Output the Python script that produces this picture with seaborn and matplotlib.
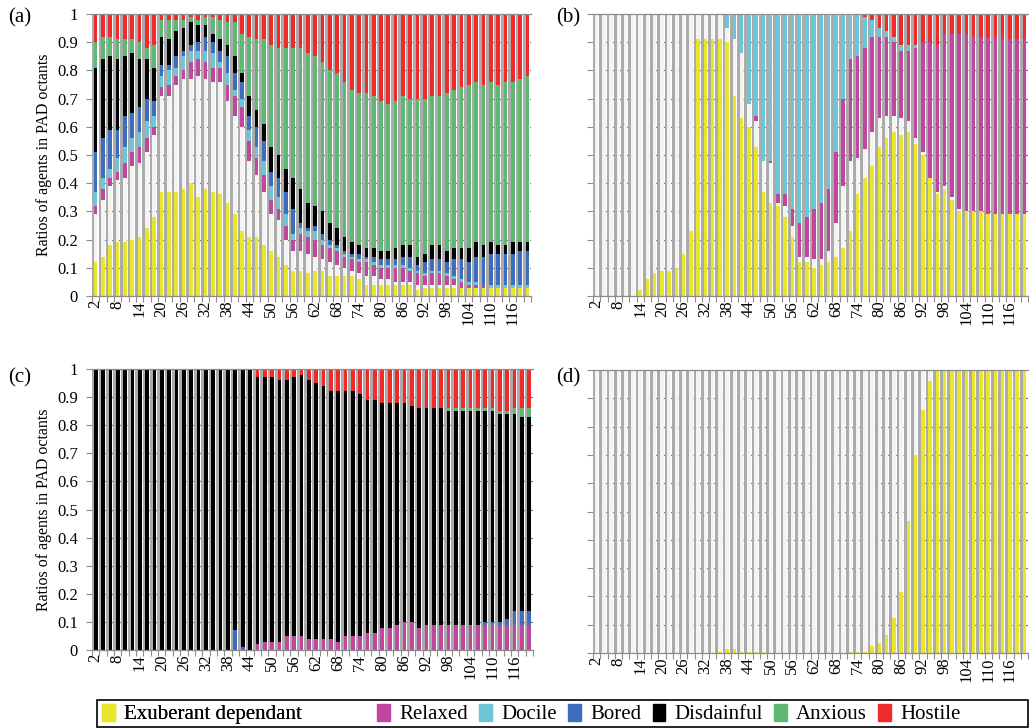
import numpy as np
import matplotlib
matplotlib.use('Agg')
import seaborn as sns
from matplotlib import pyplot as plt
from matplotlib import patheffects
from matplotlib.patches import Patch, Rectangle

plt.rcParams['font.family'] = ['Liberation Serif', 'DejaVu Serif']

# time steps on the x axis (one bar each)
STEPS = list(range(2, 121, 2))
TICK_LABELS = [str(s) for s in STEPS[::3]]

COLOURS = {
    'exuberant': '#e9e52c',
    'dependant': '#f3f3f3',
    'relaxed': '#c1479e',
    'docile': '#6bc7d7',
    'bored': '#3e6dbf',
    'disdainful': '#000000',
    'anxious': '#5db872',
    'hostile': '#ef2a2b',
}

# values are the top of each octant in the stack (cumulative ratio)
# panel (a)
a_exuberant = [0.12, 0.14, 0.18, 0.19, 0.19, 0.20, 0.21, 0.24, 0.28, 0.37,
               0.37, 0.37, 0.38, 0.40, 0.35, 0.38, 0.37, 0.36, 0.33, 0.29,
               0.23, 0.21, 0.21, 0.18, 0.16, 0.14, 0.11, 0.09, 0.09, 0.08,
               0.09, 0.09, 0.07, 0.07, 0.07, 0.07, 0.06, 0.04, 0.04, 0.04,
               0.04, 0.04, 0.04, 0.04, 0.02, 0.03, 0.03, 0.03, 0.03, 0.03,
               0.03, 0.03, 0.03, 0.03, 0.03, 0.03, 0.03, 0.03, 0.03, 0.03]
a_dependant = [0.29, 0.34, 0.39, 0.41, 0.42, 0.46, 0.47, 0.51, 0.57, 0.71,
               0.71, 0.75, 0.77, 0.77, 0.78, 0.77, 0.76, 0.76, 0.69, 0.64,
               0.60, 0.48, 0.43, 0.37, 0.29, 0.27, 0.20, 0.16, 0.16, 0.15,
               0.14, 0.13, 0.12, 0.11, 0.10, 0.09, 0.08, 0.07, 0.07, 0.06,
               0.06, 0.05, 0.05, 0.05, 0.04, 0.04, 0.04, 0.04, 0.04, 0.04,
               0.03, 0.03, 0.03, 0.03, 0.03, 0.03, 0.03, 0.03, 0.03, 0.03]
a_relaxed = [0.32, 0.38, 0.42, 0.44, 0.47, 0.51, 0.53, 0.56, 0.60, 0.74,
             0.75, 0.78, 0.80, 0.83, 0.84, 0.83, 0.81, 0.81, 0.75, 0.71,
             0.67, 0.55, 0.49, 0.43, 0.34, 0.31, 0.25, 0.20, 0.22, 0.21,
             0.20, 0.18, 0.17, 0.16, 0.14, 0.13, 0.12, 0.12, 0.11, 0.10,
             0.10, 0.10, 0.10, 0.09, 0.08, 0.07, 0.08, 0.08, 0.07, 0.06,
             0.05, 0.04, 0.04, 0.04, 0.03, 0.03, 0.03, 0.03, 0.03, 0.03]
a_docile = [0.37, 0.42, 0.45, 0.49, 0.53, 0.56, 0.58, 0.62, 0.64, 0.78,
            0.80, 0.81, 0.85, 0.87, 0.87, 0.87, 0.86, 0.83, 0.79, 0.73,
            0.70, 0.59, 0.53, 0.48, 0.39, 0.35, 0.29, 0.22, 0.24, 0.23,
            0.23, 0.20, 0.18, 0.17, 0.15, 0.14, 0.13, 0.13, 0.12, 0.11,
            0.11, 0.11, 0.11, 0.10, 0.09, 0.08, 0.09, 0.09, 0.08, 0.07,
            0.06, 0.05, 0.05, 0.04, 0.04, 0.04, 0.04, 0.04, 0.04, 0.04]
a_bored = [0.51, 0.56, 0.59, 0.59, 0.64, 0.65, 0.67, 0.70, 0.69, 0.82,
           0.82, 0.85, 0.87, 0.89, 0.90, 0.92, 0.90, 0.87, 0.85, 0.79,
           0.76, 0.64, 0.60, 0.55, 0.44, 0.42, 0.37, 0.31, 0.26, 0.24,
           0.25, 0.22, 0.20, 0.18, 0.16, 0.15, 0.15, 0.14, 0.14, 0.13,
           0.13, 0.13, 0.14, 0.14, 0.11, 0.12, 0.13, 0.13, 0.12, 0.13,
           0.13, 0.12, 0.14, 0.14, 0.15, 0.15, 0.15, 0.15, 0.16, 0.16]
a_disdainful = [0.81, 0.84, 0.85, 0.84, 0.85, 0.86, 0.84, 0.84, 0.81, 0.92,
                0.91, 0.94, 0.95, 0.97, 0.96, 0.96, 0.93, 0.91, 0.89, 0.85,
                0.79, 0.71, 0.66, 0.61, 0.53, 0.50, 0.45, 0.42, 0.38, 0.33,
                0.32, 0.30, 0.26, 0.24, 0.21, 0.19, 0.18, 0.17, 0.17, 0.16,
                0.16, 0.17, 0.18, 0.18, 0.14, 0.15, 0.18, 0.18, 0.16, 0.17,
                0.17, 0.17, 0.19, 0.18, 0.19, 0.18, 0.18, 0.19, 0.19, 0.19]
a_anxious = [0.90, 0.92, 0.92, 0.91, 0.91, 0.91, 0.90, 0.88, 0.89, 0.98,
             0.98, 0.98, 0.98, 0.99, 0.98, 0.99, 0.99, 0.98, 0.97, 0.97,
             0.93, 0.92, 0.91, 0.91, 0.89, 0.88, 0.88, 0.88, 0.88, 0.86,
             0.85, 0.83, 0.80, 0.79, 0.76, 0.73, 0.72, 0.72, 0.71, 0.69,
             0.68, 0.69, 0.71, 0.70, 0.70, 0.70, 0.71, 0.71, 0.72, 0.73,
             0.74, 0.75, 0.76, 0.75, 0.76, 0.75, 0.76, 0.76, 0.77, 0.78]

# panel (b)
b_exuberant = [0, 0, 0, 0, 0, 0, 0.02, 0.06, 0.08, 0.09,
               0.09, 0.10, 0.15, 0.23, 0.91, 0.91, 0.91, 0.91, 0.90, 0.71,
               0.63, 0.60, 0.53, 0.37, 0.33, 0.32, 0.28, 0.21, 0.12, 0.12,
               0.10, 0.11, 0.12, 0.14, 0.17, 0.23, 0.36, 0.42, 0.46, 0.53,
               0.56, 0.58, 0.57, 0.58, 0.54, 0.50, 0.42, 0.36, 0.38, 0.34,
               0.30, 0.30, 0.30, 0.30, 0.29, 0.29, 0.29, 0.29, 0.29, 0.29]
b_dependant = [1, 1, 1, 1, 1, 1, 1, 1, 1, 1,
               1, 1, 1, 1, 1, 1, 1, 1, 0.95, 0.91,
               0.86, 0.68, 0.62, 0.48, 0.47, 0.33, 0.32, 0.25, 0.14, 0.14,
               0.13, 0.13, 0.16, 0.26, 0.39, 0.48, 0.49, 0.52, 0.58, 0.63,
               0.64, 0.64, 0.63, 0.62, 0.56, 0.51, 0.42, 0.37, 0.39, 0.35,
               0.31, 0.30, 0.30, 0.30, 0.29, 0.29, 0.29, 0.29, 0.29, 0.29]
b_relaxed = [1, 1, 1, 1, 1, 1, 1, 1, 1, 1,
             1, 1, 1, 1, 1, 1, 1, 1, 0.95, 0.91,
             0.86, 0.68, 0.64, 0.48, 0.48, 0.36, 0.36, 0.31, 0.26, 0.28,
             0.31, 0.33, 0.38, 0.51, 0.70, 0.84, 0.85, 0.88, 0.92, 0.92,
             0.92, 0.90, 0.87, 0.87, 0.88, 0.90, 0.90, 0.89, 0.93, 0.93,
             0.93, 0.93, 0.92, 0.92, 0.92, 0.92, 0.91, 0.91, 0.91, 0.91]
b_docile = [1, 1, 1, 1, 1, 1, 1, 1, 1, 1,
            1, 1, 1, 1, 1, 1, 1, 1, 1, 1,
            1, 1, 1, 1, 1, 1, 1, 1, 1, 1,
            1, 1, 1, 1, 1, 1, 1, 0.99, 0.98, 0.95,
            0.94, 0.92, 0.89, 0.89, 0.89, 0.90, 0.90, 0.89, 0.93, 0.93,
            0.93, 0.93, 0.92, 0.92, 0.92, 0.92, 0.91, 0.91, 0.91, 0.91]

# panel (c)
c_relaxed = [0, 0, 0, 0, 0, 0, 0, 0, 0, 0,
             0, 0, 0, 0, 0, 0, 0, 0, 0, 0,
             0, 0, 0.02, 0.03, 0.03, 0.03, 0.05, 0.05, 0.05, 0.04,
             0.04, 0.04, 0.04, 0.03, 0.05, 0.05, 0.05, 0.06, 0.06, 0.08,
             0.08, 0.09, 0.10, 0.10, 0.08, 0.09, 0.09, 0.09, 0.09, 0.09,
             0.09, 0.09, 0.09, 0.09, 0.09, 0.09, 0.09, 0.09, 0.09, 0.09]
c_bored = [0, 0, 0, 0, 0, 0, 0, 0, 0, 0,
           0, 0, 0, 0, 0, 0, 0, 0, 0, 0.07,
           0.01, 0, 0.02, 0.03, 0.03, 0.03, 0.05, 0.05, 0.05, 0.04,
           0.04, 0.04, 0.04, 0.03, 0.05, 0.05, 0.05, 0.06, 0.06, 0.08,
           0.08, 0.09, 0.10, 0.10, 0.08, 0.09, 0.09, 0.09, 0.09, 0.09,
           0.09, 0.09, 0.09, 0.10, 0.10, 0.10, 0.11, 0.14, 0.14, 0.14]
c_disdainful = [1, 1, 1, 1, 1, 1, 1, 1, 1, 1,
                1, 1, 1, 1, 1, 1, 1, 1, 1, 1,
                1, 1, 0.97, 0.97, 0.97, 0.96, 0.96, 0.97, 0.98, 0.96,
                0.95, 0.94, 0.92, 0.92, 0.92, 0.92, 0.91, 0.89, 0.89, 0.88,
                0.88, 0.88, 0.88, 0.87, 0.86, 0.86, 0.86, 0.86, 0.85, 0.85,
                0.85, 0.85, 0.85, 0.85, 0.85, 0.84, 0.84, 0.84, 0.83, 0.83]
c_anxious = [1, 1, 1, 1, 1, 1, 1, 1, 1, 1,
             1, 1, 1, 1, 1, 1, 1, 1, 1, 1,
             1, 1, 0.97, 0.97, 0.97, 0.96, 0.96, 0.97, 0.98, 0.96,
             0.95, 0.94, 0.92, 0.92, 0.92, 0.92, 0.91, 0.89, 0.89, 0.88,
             0.88, 0.88, 0.88, 0.87, 0.86, 0.86, 0.86, 0.86, 0.86, 0.86,
             0.86, 0.86, 0.86, 0.86, 0.86, 0.85, 0.85, 0.86, 0.86, 0.86]

# panel (d)
d_exuberant = [0, 0, 0, 0, 0, 0, 0, 0, 0, 0,
               0, 0, 0, 0, 0, 0, 0, 0.003, 0.015, 0.015,
               0.005, 0.005, 0.005, 0.003, 0, 0, 0, 0, 0, 0,
               0, 0, 0, 0, 0, 0.003, 0.003, 0.003, 0.025, 0.035,
               0.065, 0.125, 0.215, 0.465, 0.70, 0.86, 0.96, 1, 1, 1,
               1, 1, 1, 1, 1, 1, 1, 1, 1, 1]

LEGEND_MAIN = ['Exuberant dependant']
LEGEND_REST = ['Relaxed', 'Docile', 'Bored', 'Disdainful', 'Anxious', 'Hostile']

FIG_W, FIG_H = 1029, 728


def px_axes(fig, left, top, right, bottom):
    return fig.add_axes([left / FIG_W, 1 - bottom / FIG_H,
                         (right - left) / FIG_W, (bottom - top) / FIG_H])


def bars(ax, values, name):
    sns.barplot(x=STEPS, y=values, color=COLOURS[name], width=0.5,
                saturation=1, linewidth=0, errorbar=None, orient='x', ax=ax)


def draw_panel(ax, top, layers, ylabels):
    # the stack always adds up to one
    bars(ax, np.ones(len(STEPS)), top)
    shadow = [patheffects.SimplePatchShadow(offset=(-1.9, 0), shadow_rgbFace='#ababab', alpha=1.0),
              patheffects.Normal()]
    for bar in ax.patches:
        bar.set_path_effects(shadow)
    for name, values in layers:
        bars(ax, values, name)

    ax.set_facecolor('white')
    ax.set_xlim(-0.5, len(STEPS) - 0.5)
    ax.set_ylim(0, 1)
    ax.set_xlabel('')
    ax.set_ylabel('')

    ax.set_xticks(range(0, len(STEPS), 3))
    ax.set_xticklabels(TICK_LABELS, rotation=90, fontsize=12)
    ax.set_xticks(np.arange(-0.5, len(STEPS), 1), minor=True)
    ax.tick_params(axis='x', which='major', length=0, pad=3)
    ax.tick_params(axis='x', which='minor', length=4, color='#8c8c8c', width=0.8)

    yt = np.round(np.arange(0, 1.01, 0.1), 1)
    ax.set_yticks(yt)
    if ylabels:
        ax.set_yticklabels(['0' if v == 0 else '1' if v == 1 else f'{v:.1f}' for v in yt], fontsize=12)
        ax.set_ylabel('Ratios of agents in PAD octants', fontsize=11.5, labelpad=4)
    else:
        ax.set_yticklabels([])
    ax.tick_params(axis='y', length=4, color='#8c8c8c', width=0.8, pad=6)

    ax.yaxis.grid(True, color='#7a7a7a', linestyle=(0, (3, 2)), linewidth=0.9)
    ax.xaxis.grid(False)
    ax.set_axisbelow(True)
    for side in ('left', 'right'):
        ax.spines[side].set_visible(False)
    for side in ('top', 'bottom'):
        ax.spines[side].set_color('#8c8c8c')
        ax.spines[side].set_linewidth(0.9)


def draw_legend(fig):
    box = Rectangle((97 / FIG_W, 1 / FIG_H), 931 / FIG_W, 27 / FIG_H,
                    transform=fig.transFigure, fill=False, edgecolor='black', linewidth=1.2)
    fig.patches.append(box)
    common = dict(frameon=False, fontsize=15, handlelength=0.6, handleheight=0.9,
                  handletextpad=0.45, borderpad=0, borderaxespad=0, loc='center left')
    main = fig.legend(handles=[Patch(color=COLOURS['exuberant'], label=LEGEND_MAIN[0])],
                      bbox_to_anchor=(102 / FIG_W, 1 - 714 / FIG_H), **common)
    fig.add_artist(main)
    rest = [Patch(color=COLOURS[n.lower()], label=n) for n in LEGEND_REST]
    fig.legend(handles=rest, bbox_to_anchor=(377 / FIG_W, 1 - 714 / FIG_H),
               ncol=len(rest), columnspacing=0.55, **common)


def main():
    fig = plt.figure(figsize=(FIG_W / 100, FIG_H / 100), dpi=100)

    ax_a = px_axes(fig, 92, 14, 531, 296)
    draw_panel(ax_a, 'hostile', [
        ('anxious', a_anxious), ('disdainful', a_disdainful), ('bored', a_bored),
        ('docile', a_docile), ('relaxed', a_relaxed), ('dependant', a_dependant),
        ('exuberant', a_exuberant),
    ], True)

    ax_b = px_axes(fig, 593, 14, 1028, 296)
    draw_panel(ax_b, 'hostile', [
        ('docile', b_docile), ('relaxed', b_relaxed), ('dependant', b_dependant),
        ('exuberant', b_exuberant),
    ], False)

    ax_c = px_axes(fig, 92, 369, 533, 650)
    draw_panel(ax_c, 'hostile', [
        ('anxious', c_anxious), ('disdainful', c_disdainful), ('bored', c_bored),
        ('relaxed', c_relaxed),
    ], True)

    ax_d = px_axes(fig, 593, 370, 1028, 653)
    draw_panel(ax_d, 'dependant', [('exuberant', d_exuberant)], False)

    for label, x, y in [('(a)', 8, 18), ('(b)', 556, 18), ('(c)', 8, 378), ('(d)', 556, 378)]:
        fig.text(x / FIG_W, 1 - y / FIG_H, label, fontsize=15, va='center', ha='left')

    draw_legend(fig)
    fig.savefig('out.png', dpi=100)
    plt.close(fig)


if __name__ == '__main__':
    main()
